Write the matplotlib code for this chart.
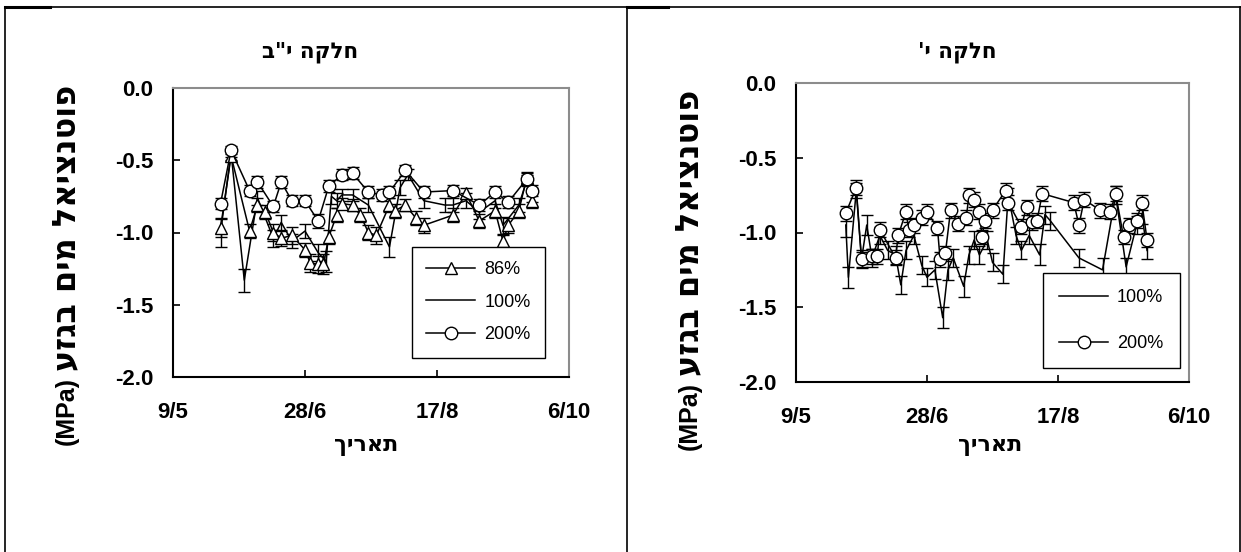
import matplotlib
matplotlib.use("Agg")
import matplotlib.pyplot as plt
from matplotlib.lines import Line2D

plt.rcParams['font.family'] = ['Liberation Sans', 'DejaVu Sans']

# ---------------- data (days since 9/5) ----------------
tick_days = [0, 50, 100, 150]
tick_labels = ["9/5", "28/6", "17/8", "6/10"]

# Left panel (plot 12)
L_days_86 = [18, 22, 29, 32, 35, 38, 41, 45, 50, 52, 55, 57, 59, 62, 64, 68, 71, 74, 77, 82,
             84, 88, 92, 95, 106, 111, 116, 122, 125, 127, 131, 134, 136]
L_86 = [-0.97, -0.47, -0.99, -0.81, -0.86, -1.00, -1.04, -1.02, -1.12, -1.21,
        -1.22, -1.22, -1.03, -0.88, -0.80, -0.81, -0.88, -1.00, -1.02, -0.81,
        -0.85, -0.81, -0.90, -0.95, -0.88, -0.73, -0.92, -0.85, -1.06, -0.95,
        -0.85, -0.62, -0.78]
L_86_err = [0.06, 0.03, 0.05, 0.05, 0.05, 0.06, 0.05, 0.06, 0.05, 0.06,
            0.06, 0.07, 0.05, 0.05, 0.04, 0.04, 0.05, 0.05, 0.06, 0.05,
            0.05, 0.04, 0.05, 0.05, 0.05, 0.04, 0.05, 0.05, 0.04, 0.05,
            0.05, 0.04, 0.05]

L_days_100 = [18, 22, 27, 32, 38, 41, 45, 50, 55, 58, 60, 62, 64, 68, 74, 82, 86, 89, 95, 103,
              106, 111, 116, 122, 125, 131, 134, 136]
L_100 = [-1.00, -0.45, -1.33, -0.76, -1.04, -0.93, -1.06, -0.99, -1.14, -1.20,
         -0.75, -0.78, -0.74, -0.74, -0.81, -1.10, -0.69, -0.60, -0.78, -0.81,
         -0.81, -0.78, -0.86, -0.78, -0.95, -0.81, -0.64, -0.74]
L_100_err = [0.10, 0.03, 0.08, 0.05, 0.06, 0.05, 0.05, 0.05, 0.06, 0.07,
             0.05, 0.05, 0.04, 0.04, 0.05, 0.07, 0.05, 0.04, 0.05, 0.05,
             0.05, 0.05, 0.05, 0.05, 0.06, 0.05, 0.04, 0.05]

L_days_200 = [18, 22, 29, 32, 38, 41, 45, 50, 55, 59, 64, 68, 74, 79, 82, 88, 95, 106, 116, 122,
              127, 134, 136]
L_200 = [-0.80, -0.43, -0.71, -0.65, -0.82, -0.65, -0.78, -0.78, -0.92, -0.68,
         -0.60, -0.59, -0.72, -0.74, -0.72, -0.57, -0.72, -0.71, -0.81, -0.72,
         -0.79, -0.63, -0.71]
L_200_err = [0.04, 0.03, 0.04, 0.04, 0.04, 0.04, 0.04, 0.04, 0.05, 0.04,
             0.04, 0.04, 0.04, 0.04, 0.04, 0.04, 0.04, 0.04, 0.04, 0.04,
             0.04, 0.04, 0.04]

# Right panel (plot 10)
R_days_100 = [19, 20, 23, 25, 27, 29, 32, 35, 38, 40, 42, 45, 48, 50, 53, 56, 58, 60, 64, 66,
              68, 70, 73, 75, 79, 81, 84, 86, 89, 93, 95, 97, 108, 117, 122, 126, 130, 132, 134]
R_100 = [-0.95, -1.30, -0.72, -1.18, -0.95, -1.17, -1.02, -1.12, -1.15, -1.35,
         -1.12, -1.02, -1.22, -1.30, -1.25, -1.57, -1.25, -1.17, -1.36, -1.15,
         -1.05, -1.15, -1.05, -1.20, -1.28, -0.75, -1.02, -1.12, -1.02, -1.15,
         -0.88, -0.92, -1.17, -1.25, -0.75, -1.23, -0.95, -0.88, -1.12]
R_100_err = [0.08, 0.07, 0.05, 0.06, 0.07, 0.06, 0.06, 0.06, 0.06, 0.06,
             0.06, 0.06, 0.06, 0.06, 0.06, 0.07, 0.07, 0.06, 0.07, 0.06,
             0.06, 0.06, 0.06, 0.06, 0.06, 0.05, 0.06, 0.06, 0.06, 0.07,
             0.06, 0.06, 0.06, 0.08, 0.06, 0.06, 0.06, 0.06, 0.06]

R_days_200 = [19, 23, 25, 29, 31, 32, 38, 39, 42, 43, 45, 48, 50, 54, 55, 57, 59, 62, 65, 66,
              68, 70, 71, 72, 75, 80, 81, 86, 88, 90, 92, 94, 106, 108, 110, 116, 120, 122, 125, 127,
              130, 132, 134]
R_200 = [-0.87, -0.70, -1.18, -1.16, -1.16, -0.98, -1.17, -1.02, -0.86, -0.98,
         -0.95, -0.90, -0.86, -0.97, -1.18, -1.14, -0.85, -0.94, -0.90, -0.75,
         -0.78, -0.86, -1.03, -0.92, -0.85, -0.72, -0.80, -0.96, -0.83, -0.93,
         -0.92, -0.74, -0.80, -0.95, -0.78, -0.85, -0.86, -0.74, -1.03, -0.95,
         -0.92, -0.80, -1.05]
R_200_err = [0.05, 0.05, 0.05, 0.05, 0.05, 0.05, 0.05, 0.05, 0.05, 0.05,
             0.05, 0.05, 0.05, 0.05, 0.05, 0.05, 0.05, 0.05, 0.05, 0.05,
             0.05, 0.05, 0.05, 0.05, 0.05, 0.05, 0.05, 0.05, 0.05, 0.05,
             0.05, 0.05, 0.05, 0.05, 0.05, 0.05, 0.05, 0.05, 0.05, 0.05,
             0.05, 0.05, 0.05]

# Hebrew strings (logical order); reversed for visual right-to-left display
title_left = 'חלקה י"ב'
title_right = "חלקה י'"
ylabel_heb = "פוטנציאל מים בגזע"
ylabel_unit = "(MPa)"
xlabel_heb = "תאריך"


def vis(s):
    return s[::-1]


HEB = ['DejaVu Sans']
LAT = ['Liberation Sans', 'DejaVu Sans']

# ---------------- figure ----------------
fig = plt.figure(figsize=(12.41, 5.52), dpi=100)
W, H = 1241.0, 552.0


def ax_rect(x0, y0, x1, y1):
    return [x0 / W, 1 - y1 / H, (x1 - x0) / W, (y1 - y0) / H]


axL = fig.add_axes(ax_rect(173, 88, 569, 377))
axR = fig.add_axes(ax_rect(796, 83, 1189, 382))

eb_kw = dict(color='black', lw=1.1, elinewidth=1.0, capsize=4.5, capthick=1.0)
MS = 9


def style_axes(ax):
    ax.set_xlim(0, 150)
    ax.set_ylim(-2.0, 0.0)
    ax.set_xticks(tick_days)
    ax.set_xticklabels(tick_labels)
    ax.set_yticks([0.0, -0.5, -1.0, -1.5, -2.0])
    ax.set_yticklabels(["0.0", "-0.5", "-1.0", "-1.5", "-2.0"])
    for sp in ['left', 'bottom']:
        ax.spines[sp].set_color('black')
        ax.spines[sp].set_linewidth(1.5)
    for sp in ['top', 'right']:
        ax.spines[sp].set_color('#8c8c8c')
        ax.spines[sp].set_linewidth(1.5)
    ax.tick_params(axis='both', direction='in', length=5, width=1.2,
                   top=False, right=False, labelsize=16)
    ax.tick_params(axis='x', pad=18)
    ax.tick_params(axis='y', pad=14)
    for lab in ax.get_xticklabels() + ax.get_yticklabels():
        lab.set_fontweight('bold')


def marker_handle(m):
    return Line2D([], [], color='black', lw=1.1, marker=m, ms=MS, mfc='white', mec='black')


# left panel
axL.errorbar(L_days_86, L_86, yerr=L_86_err, marker='^', ms=MS, mfc='white',
             mec='black', mew=1.0, zorder=3, **eb_kw)
axL.errorbar(L_days_100, L_100, yerr=L_100_err, marker=None, zorder=2, **eb_kw)
axL.errorbar(L_days_200, L_200, yerr=L_200_err, marker='o', ms=MS, mfc='white',
             mec='black', mew=1.0, zorder=4, **eb_kw)
style_axes(axL)

legL = axL.legend([marker_handle('^'), Line2D([], [], color='black', lw=1.1), marker_handle('o')],
                  ["86%", "100%", "200%"],
                  loc='upper left', bbox_to_anchor=((412 - 173) / 396, 1 - (247 - 88) / 289),
                  fontsize=13, frameon=True, fancybox=False, framealpha=1,
                  edgecolor='black', handlelength=2.7, handletextpad=0.5,
                  labelspacing=0.85, borderpad=0.8, borderaxespad=0)
legL.get_frame().set_linewidth(1.0)

# right panel
axR.errorbar(R_days_100, R_100, yerr=R_100_err, marker=None, zorder=2, **eb_kw)
axR.errorbar(R_days_200, R_200, yerr=R_200_err, marker='o', ms=MS, mfc='white',
             mec='black', mew=1.0, zorder=4, **eb_kw)
style_axes(axR)

legR = axR.legend([Line2D([], [], color='black', lw=1.1), marker_handle('o')],
                  ["100%", "200%"],
                  loc='upper left', bbox_to_anchor=((1043 - 796) / 393, 1 - (273 - 83) / 299),
                  fontsize=13, frameon=True, fancybox=False, framealpha=1,
                  edgecolor='black', handlelength=2.7, handletextpad=0.5,
                  labelspacing=1.6, borderpad=0.9, borderaxespad=0)
legR.get_frame().set_linewidth(1.0)


# titles and axis labels (figure pixel positions)
def ftext(x, y, s, **kw):
    fig.text(x / W, 1 - y / H, s, **kw)


ftext(310, 52, vis(title_left), ha='center', va='center', fontsize=15.5,
      fontweight='bold', family=HEB)
ftext(957, 52, vis(title_right), ha='center', va='center', fontsize=15.5,
      fontweight='bold', family=HEB)

# y labels: Hebrew part above, unit below (rotated, reading bottom to top)
for xc, split in [(67, 374), (690, 379)]:
    ftext(xc, split - 3, vis(ylabel_heb), ha='center', va='bottom', rotation=90,
          fontsize=23, fontweight='bold', family=HEB)
    ftext(xc, split + 3, ylabel_unit, ha='center', va='top', rotation=90,
          fontsize=18, fontweight='bold', family=LAT)

ftext(366, 446, vis(xlabel_heb), ha='center', va='center', fontsize=16,
      fontweight='bold', family=HEB)
ftext(990, 446, vis(xlabel_heb), ha='center', va='center', fontsize=16,
      fontweight='bold', family=HEB)


# panel frames
def fline(x0, y0, x1, y1, lw=1.2):
    fig.add_artist(Line2D([x0 / W, x1 / W], [1 - y0 / H, 1 - y1 / H],
                          color='black', lw=lw, transform=fig.transFigure))


fline(5, 7, 1241, 7)
fline(5, 7, 5, 552)
fline(627, 7, 627, 552)
fline(1240, 7, 1240, 552)
fline(5, 6.5, 50, 6.5, lw=2.2)
fline(627, 6.5, 668, 6.5, lw=2.2)

fig.savefig("out.png", dpi=100)
